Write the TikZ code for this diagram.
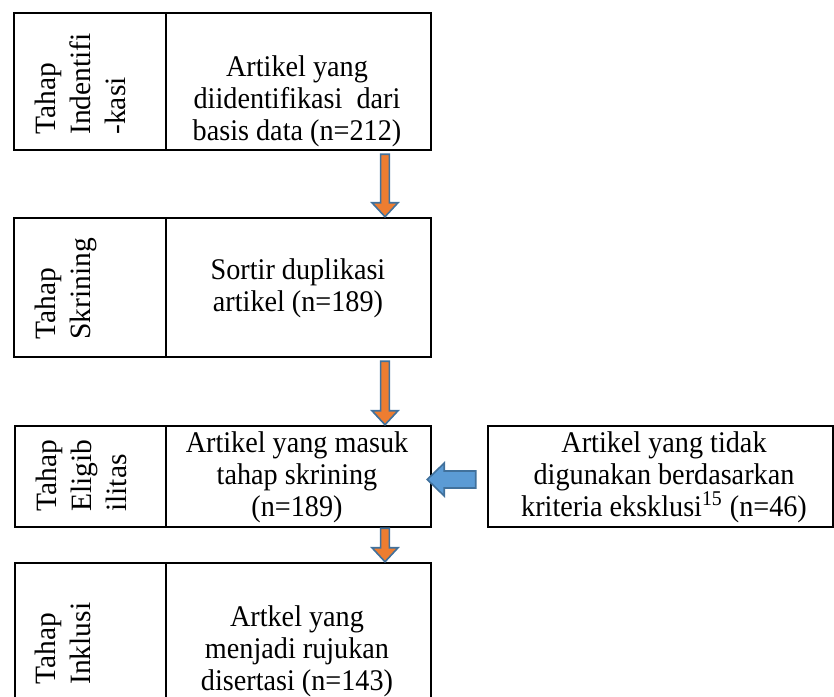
\documentclass[tikz,border=0pt]{standalone}
\usepackage{fontspec}
\setmainfont{Liberation Serif}
\newfontfamily\bodyfont{Liberation Serif}[FakeStretch=0.94]
\usepackage{xcolor}
\usepackage{tikz}
\usetikzlibrary{calc,fit}
\definecolor{arroworange}{RGB}{237,125,49}
\definecolor{arrowblue}{RGB}{91,155,213}
\definecolor{edgeblue}{RGB}{65,113,156}

\tikzset{
  cell/.style={draw, rectangle, line width=1.25pt, inner sep=0pt},
  body/.style={align=center, inner sep=0pt, font=\bodyfont\fontsize{15}{16}\selectfont},
  stage/.style={align=left, rotate=90, anchor=north west, inner sep=0pt, font=\fontsize{14.75}{17.5}\selectfont},
  fatarrow/.style={draw=edgeblue, line width=0.8pt, line join=miter}
}

% block arrow pointing down: from, to
\newcommand{\downblock}[2]{%
  \draw[fatarrow, fill=arroworange] let \p1=(#1), \p2=(#2) in
    (\x1-2.2pt,\y1) -- (\x1+2.2pt,\y1) -- (\x1+2.2pt,\y2+7pt) -- (\x1+6.5pt,\y2+7pt)
    -- (\x1,\y2) -- (\x1-6.5pt,\y2+7pt) -- (\x1-2.2pt,\y2+7pt) -- cycle;}
% block arrow pointing left: tail, tip
\newcommand{\leftblock}[2]{%
  \draw[fatarrow, fill=arrowblue] let \p1=(#1), \p2=(#2) in
    (\x1,\y1+4.25pt) -- (\x2+8.5pt,\y1+4.25pt) -- (\x2+8.5pt,\y1+8.25pt) -- (\x2,\y1)
    -- (\x2+8.5pt,\y1-8.25pt) -- (\x2+8.5pt,\y1-4.25pt) -- (\x1,\y1-4.25pt) -- cycle;}

\begin{document}
\begin{tikzpicture}[x=0.5pt, y=-0.5pt]
  \clip (0,0) rectangle (834,696);
  \coordinate (ax) at (385,0);

  % Tahap identifikasi
  \node[cell, fit={(14,13) (166,150)}] (idlabel) {};
  \node[cell, fit={(166,13) (431,150)}] (idcell) {};
  \node[stage] (idstage) at (35,135) {Tahap\\Indentifi\\-kasi};
  \node[body] (idtext) at (297,101) {Artikel yang\\diidentifikasi~ dari\\basis data (n=212)};

  % Tahap skrining
  \node[cell, fit={(14,218) (166,357)}] (sklabel) {};
  \node[cell, fit={(166,218) (431,357)}] (skcell) {};
  \node[stage] (skstage) at (35,340) {Tahap\\Skrining};
  \node[body] (sktext) at (298,288) {Sortir duplikasi\\artikel (n=189)};

  % Tahap eligibilitas
  \node[cell, fit={(15,426) (166,527)}] (ellabel) {};
  \node[cell, fit={(166,426) (431,527)}] (elcell) {};
  \node[stage] (elstage) at (36,512) {Tahap\\Eligib\\ilitas};
  \node[body] (eltext) at (297,477) {Artikel yang masuk\\tahap skrining\\(n=189)};

  % Eksklusi
  \node[cell, fit={(488,426) (833,527)}] (excell) {};
  \node[body] (extext) at (664,477) {Artikel yang tidak\\digunakan berdasarkan\\kriteria eksklusi\textsuperscript{15} (n=46)};

  % Tahap inklusi
  \node[cell, fit={(15,563) (166,710)}] (inlabel) {};
  \node[cell, fit={(166,563) (431,710)}] (incell) {};
  \node[stage] (instage) at (35,685) {Tahap\\Inklusi};
  \node[body] (intext) at (297,651) {Artkel yang\\menjadi rujukan\\disertasi (n=143)};

  % arrows
  \downblock{$(idcell.south -| ax)+(0,3)$}{skcell.north -| ax}
  \downblock{$(skcell.south -| ax)+(0,3)$}{elcell.north -| ax}
  \downblock{elcell.south -| ax}{incell.north -| ax}
  \leftblock{$(excell.west)+(-11,3)$}{$(elcell.east)+(-5,3)$}
\end{tikzpicture}
\end{document}
